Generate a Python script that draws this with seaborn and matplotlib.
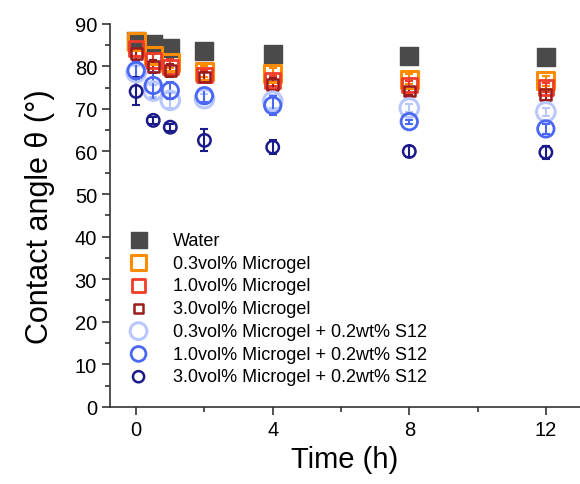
import matplotlib
matplotlib.use("Agg")
import matplotlib.pyplot as plt
import seaborn as sns
import numpy as np
import pandas as pd
from matplotlib.ticker import MultipleLocator

time_h = [0, 0.5, 1, 2, 4, 8, 12]

labels = ["Water", "0.3vol% Microgel", "1.0vol% Microgel", "3.0vol% Microgel",
          "0.3vol% Microgel + 0.2wt% S12", "1.0vol% Microgel + 0.2wt% S12",
          "3.0vol% Microgel + 0.2wt% S12"]

water = [86.0, 85.3, 84.4, 83.7, 83.0, 82.5, 82.2]
mg03 = [85.8, 82.5, 81.0, 78.8, 78.4, 77.0, 76.6]
mg10 = [84.2, 81.3, 79.8, 78.0, 76.6, 75.6, 75.0]
mg30 = [83.0, 80.0, 79.0, 77.5, 75.8, 74.2, 73.3]
s03 = [78.5, 74.2, 72.0, 72.4, 71.8, 70.2, 69.3]
s10 = [79.0, 75.5, 74.3, 73.1, 70.8, 67.0, 65.3]
s30 = [74.1, 67.3, 65.7, 62.6, 61.0, 60.0, 59.8]

err_water = [0.5, 0.5, 0.5, 0.5, 0.5, 0.5, 0.5]
err_mg03 = [1.5, 1.5, 1.5, 1.2, 1.2, 1.2, 1.2]
err_mg10 = [1.8, 1.6, 1.8, 1.2, 1.2, 1.0, 1.0]
err_mg30 = [1.8, 1.5, 1.5, 1.2, 1.5, 1.0, 1.2]
err_s03 = [1.5, 1.5, 1.8, 1.2, 1.5, 1.0, 1.0]
err_s10 = [2.0, 3.1, 2.0, 1.5, 2.2, 0.5, 1.2]
err_s30 = [3.3, 0.8, 0.8, 2.6, 1.7, 1.3, 1.5]

values = [water, mg03, mg10, mg30, s03, s10, s30]
errors = [err_water, err_mg03, err_mg10, err_mg30, err_s03, err_s10, err_s30]

colors = ["#4a4a4a", "#ff8c00", "#f03c28", "#9b1c1c", "#b9c7ff", "#4a68f5", "#1a1a8a"]
markers = ["s", "s", "s", "s", "o", "o", "o"]
filled = [True, False, False, False, False, False, False]
sizes = [150, 150, 110, 60, 180, 140, 80]
lws = [1, 2.2, 2.0, 1.8, 2.2, 2.0, 1.8]

plt.rcParams["font.family"] = ["Liberation Sans", "DejaVu Sans"]

fig = plt.figure(figsize=(5.8, 4.85), dpi=100)
ax = fig.add_axes([0.19, 0.159, 0.81, 0.79])

for lab, vals, errs, c, m, f, s, lw in zip(labels, values, errors, colors, markers, filled, sizes, lws):
    df = pd.DataFrame({"t": time_h, "v": vals})
    ax.errorbar(time_h, vals, yerr=errs, fmt="none", ecolor=c, elinewidth=1.5,
                capsize=3, capthick=1.5, zorder=2)
    if f:
        sns.scatterplot(data=df, x="t", y="v", marker=m, s=s, color=c, edgecolor=c,
                        linewidth=lw, label=lab, ax=ax, zorder=3)
    else:
        sns.scatterplot(data=df, x="t", y="v", marker=m, s=s, facecolor="none",
                        edgecolor=c, linewidth=lw, label=lab, ax=ax, zorder=3)

ax.set_xlim(-0.76, 13.0)
ax.set_ylim(0, 90)
ax.set_xticks([0, 4, 8, 12])
ax.xaxis.set_minor_locator(MultipleLocator(2))
ax.set_yticks(np.arange(0, 91, 10))
ax.yaxis.set_minor_locator(MultipleLocator(5))
ax.tick_params(axis="both", which="major", direction="out", length=6, width=1.2,
               labelsize=14.5, color="#333333")
ax.tick_params(axis="both", which="minor", direction="out", length=3.5, width=1.2,
               color="#333333")
for sp in ["top", "right"]:
    ax.spines[sp].set_visible(False)
for sp in ["left", "bottom"]:
    ax.spines[sp].set_linewidth(1.2)
    ax.spines[sp].set_color("#333333")

ax.set_xlabel("Time (h)", fontsize=21, labelpad=4)
ax.set_ylabel("Contact angle θ (°)", fontsize=22, labelpad=14)

leg = ax.legend(loc="upper left", bbox_to_anchor=(-0.005, 0.49), frameon=False,
                fontsize=13, handletextpad=0.9, labelspacing=0.32,
                borderaxespad=0.3, markerscale=0.9)

fig.savefig("out.png", dpi=100)
